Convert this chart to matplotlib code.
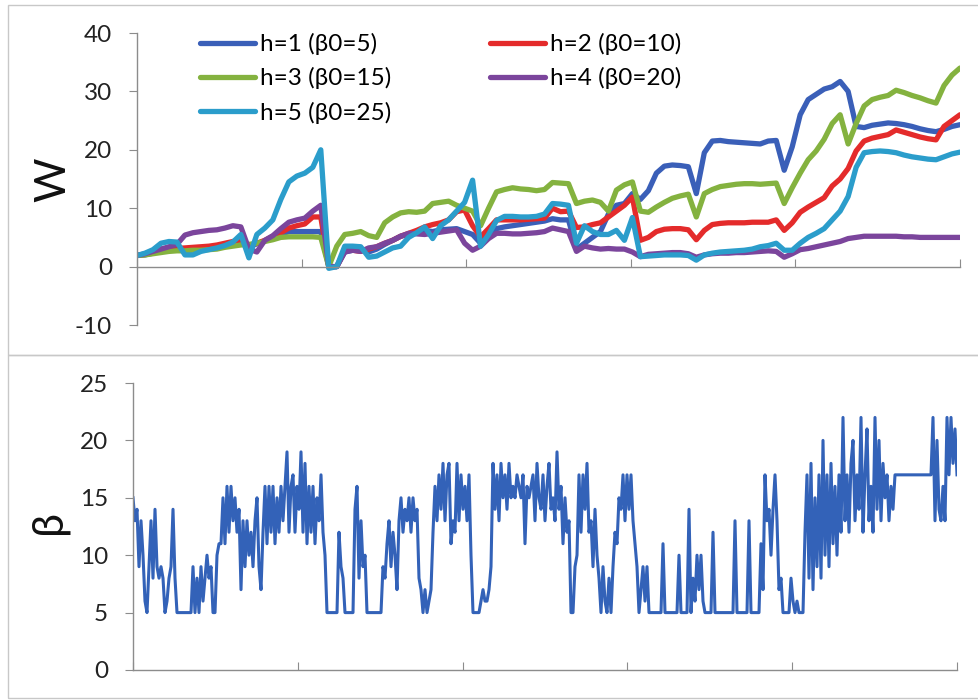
import matplotlib
matplotlib.use('Agg')
import matplotlib.pyplot as plt
from matplotlib.patches import Rectangle
import numpy as np

plt.rcParams['font.family'] = ['Lato', 'DejaVu Sans']
plt.rcParams['axes.unicode_minus'] = False

# W for the five runs (same time grid for all)
w_h1 = [1.9, 2.0, 2.3, 2.7, 2.9, 3.0, 3.0, 3.1,
        3.2, 3.3, 3.5, 3.8, 4.1, 4.4, 3.4, 3.9,
        4.4, 5.0, 5.5, 6.0, 6.0, 6.0, 6.0, 6.0,
        0.0, 0.0, 2.5, 2.8, 3.0, 2.5, 3.0, 3.8,
        4.5, 5.2, 5.5, 5.8, 6.2, 6.0, 6.3, 6.4,
        6.5, 6.0, 5.5, 4.0, 5.5, 6.5, 6.8, 7.0,
        7.2, 7.4, 7.6, 7.8, 8.2, 8.0, 8.0, 3.0,
        4.0, 5.0, 6.0, 9.0, 10.5, 10.8, 12.5, 11.5,
        13.0, 16.0, 17.2, 17.4, 17.3, 17.1, 12.5, 19.5,
        21.5, 21.6, 21.4, 21.3, 21.2, 21.1, 21.0, 21.5,
        21.6, 16.5, 20.5, 26.0, 28.6, 29.5, 30.4, 30.8,
        31.7, 30.0, 24.0, 23.8, 24.2, 24.4, 24.6, 24.5,
        24.3, 24.0, 23.6, 23.3, 23.1, 23.5, 24.0, 24.3]
w_h2 = [1.9, 2.1, 2.5, 3.0, 3.1, 3.1, 3.2, 3.3,
        3.4, 3.5, 3.7, 4.0, 4.3, 4.6, 3.5, 4.0,
        4.5, 5.2, 5.8, 6.6, 7.0, 7.3, 8.5, 8.5,
        0.0, 0.0, 2.8, 2.8, 2.6, 3.0, 3.4, 4.0,
        4.5, 5.2, 5.7, 6.2, 6.8, 7.2, 7.5, 8.0,
        9.4, 9.7, 7.0, 5.1, 6.5, 8.0, 8.0, 8.0,
        8.0, 8.1, 8.2, 8.3, 10.0, 9.4, 9.5, 6.7,
        6.8, 7.2, 7.5, 8.5, 9.5, 10.5, 11.9, 4.5,
        5.0, 6.0, 6.4, 6.5, 6.5, 6.3, 4.6, 6.2,
        7.2, 7.4, 7.5, 7.5, 7.5, 7.6, 7.6, 7.6,
        8.0, 6.2, 7.5, 9.3, 10.2, 11.0, 11.8, 13.8,
        15.0, 16.8, 19.8, 21.5, 22.0, 22.3, 22.6, 23.4,
        23.0, 22.6, 22.2, 21.9, 21.7, 24.0, 25.0, 26.0]
w_h3 = [1.9, 2.0, 2.2, 2.4, 2.6, 2.7, 2.7, 2.8,
        2.8, 2.9, 3.0, 3.3, 3.5, 3.7, 3.8, 4.0,
        4.3, 4.6, 5.0, 5.1, 5.1, 5.1, 5.1, 5.0,
        0.0, 3.5, 5.5, 5.7, 6.0, 5.3, 5.0, 7.5,
        8.5, 9.2, 9.4, 9.3, 9.5, 10.8, 11.0, 11.2,
        10.5, 10.0, 9.5, 7.0, 10.0, 12.8, 13.2, 13.5,
        13.3, 13.2, 13.0, 13.2, 14.4, 14.3, 14.2, 10.8,
        11.2, 11.4, 11.0, 9.5, 13.1, 14.0, 14.5, 9.5,
        9.3, 10.2, 11.0, 11.7, 12.1, 12.4, 8.5, 12.5,
        13.2, 13.7, 13.9, 14.1, 14.2, 14.2, 14.1, 14.2,
        14.3, 10.8, 13.5, 16.0, 18.3, 19.8, 21.8, 24.5,
        26.0, 21.0, 24.5, 27.5, 28.6, 29.0, 29.3, 30.2,
        29.8, 29.3, 28.9, 28.4, 28.0, 31.0, 32.8, 34.0]
w_h4 = [1.9, 2.2, 2.6, 3.0, 3.4, 3.8, 5.4, 5.8,
        6.0, 6.2, 6.3, 6.6, 7.0, 6.8, 3.0, 2.5,
        4.5, 5.3, 6.5, 7.6, 8.0, 8.3, 9.5, 10.5,
        0.0, 0.0, 2.5, 2.8, 2.6, 3.2, 3.4, 4.0,
        4.5, 5.2, 5.7, 5.6, 5.5, 5.7, 5.9, 6.1,
        6.3, 4.0, 2.8, 3.5, 4.8, 5.7, 5.7, 5.6,
        5.6, 5.7, 5.8, 6.0, 6.6, 6.3, 6.0, 2.6,
        3.5, 3.2, 3.0, 3.1, 3.0, 3.0, 2.5, 1.7,
        2.1, 2.2, 2.3, 2.4, 2.4, 2.2, 1.6, 2.0,
        2.2, 2.3, 2.3, 2.4, 2.4, 2.5, 2.6, 2.7,
        2.6, 1.6, 2.2, 2.9, 3.1, 3.4, 3.7, 4.0,
        4.3, 4.8, 5.0, 5.2, 5.2, 5.2, 5.2, 5.2,
        5.1, 5.1, 5.0, 5.0, 5.0, 5.0, 5.0, 5.0]
w_h5 = [1.9, 2.3, 2.9, 4.0, 4.3, 4.2, 2.0, 2.0,
        2.6, 2.9, 3.2, 3.6, 4.2, 5.5, 1.5, 5.5,
        6.6, 8.0, 11.5, 14.5, 15.5, 16.0, 17.0, 20.0,
        -0.3, 0.0, 3.5, 3.5, 3.4, 1.6, 1.8, 2.5,
        3.2, 3.5, 5.0, 5.8, 6.8, 4.8, 7.0, 8.0,
        9.5, 11.0, 14.8, 3.5, 5.5, 7.9, 8.6, 8.6,
        8.5, 8.5, 8.6, 9.0, 10.8, 10.7, 10.5, 4.0,
        7.0, 6.0, 5.5, 5.5, 6.2, 4.5, 8.4, 1.7,
        1.8, 1.9, 2.0, 2.0, 2.0, 1.9, 1.1, 2.0,
        2.3, 2.5, 2.6, 2.7, 2.8, 3.0, 3.4, 3.6,
        4.0, 2.8, 2.8, 4.0, 5.0, 5.7, 6.5, 8.0,
        9.5, 12.0, 17.0, 19.5, 19.7, 19.8, 19.7, 19.5,
        19.1, 18.8, 18.6, 18.4, 18.3, 18.8, 19.3, 19.6]

labels = ['h=1 (\u03b20=5)', 'h=2 (\u03b20=10)', 'h=3 (\u03b20=15)',
          'h=4 (\u03b20=20)', 'h=5 (\u03b20=25)']
colors = ['#3a5fb8', '#e42b2b', '#84b23f', '#7b459c', '#2b9dcb']

# beta trace (integer levels)
beta = [15, 13, 14, 9, 13, 10,
        6, 5, 9,
        13, 8, 14, 9,
        8, 9, 8, 5, 6,
        8, 9, 14, 8,
        5, 5, 5, 5, 5, 5, 5, 5,
        9, 5, 8, 5, 9, 6, 8,
        10, 8, 9, 5, 5,
        10, 11, 11,
        15, 11, 16, 12, 16, 13, 15, 12, 14,
        7, 13,
        9, 13, 10, 12, 9, 13, 15,
        9, 7, 12,
        16, 11, 16, 12, 16, 11, 15,
        12, 16, 13, 16, 19, 12, 16, 17, 12, 16, 14, 19, 12,
        18, 11, 16, 12, 16, 11, 15, 13, 17, 12,
        10, 5, 5, 5, 5, 5, 5,
        12, 9, 8, 5, 5, 5, 5, 5,
        14, 16, 8, 13, 9, 10,
        5, 5, 5, 5, 5, 5, 5, 5,
        9, 8, 11,
        13, 9, 12, 10, 7, 13,
        15, 12, 14, 13, 15, 12, 15, 13, 14,
        8, 7, 5, 7, 5, 6, 7,
        12, 16, 13, 17, 14, 18, 13, 17, 18,
        11, 13, 12, 18,
        13, 17, 14, 16, 13, 17, 10, 5,
        5, 5, 5, 6, 7, 6,
        6, 7, 9,
        18, 14, 17, 13, 18, 15, 17, 14, 18, 15,
        16, 15, 17, 16, 15, 17, 11, 16, 15, 16,
        17, 13, 18, 15, 14, 17, 13, 16, 18, 14, 15, 13, 19, 14,
        16, 11, 15, 12, 13, 5, 5,
        9, 10, 17, 12, 17, 14, 18, 12,
        13, 9, 14, 10, 8,
        5, 9, 6, 5, 8, 5,
        9, 12, 11, 15, 14, 17,
        13, 17, 14, 17, 13, 11, 9, 5,
        7, 9, 6, 9,
        5, 5, 5, 5, 5, 5, 5, 11,
        5, 5, 5, 5, 5, 5, 5, 10,
        5, 5, 5, 5, 14,
        5, 8, 6, 10, 7, 10, 6, 5,
        5, 5, 5, 12,
        5, 5, 5, 5, 5, 5, 5, 5, 5, 5, 13,
        5, 5, 5, 5, 5, 5, 13,
        5, 5, 5, 5, 5, 11, 7,
        17, 13, 14, 10, 14, 17, 13, 7, 8,
        5, 5, 5, 5, 8,
        6, 5, 6, 5, 5, 5,
        12, 17, 8, 18, 7, 15, 9, 17, 8, 20, 10,
        17, 9, 18, 11, 16, 10, 17, 12, 22,
        13, 17, 12, 18, 20, 13, 17, 14, 22,
        12, 17, 21, 13, 16, 12, 22,
        14, 20, 13, 18, 15, 17, 13, 16, 14, 17, 17,
        17, 17, 17, 17, 17, 17, 17, 17, 17, 17, 17, 17, 17, 17, 17, 17, 17,
        22, 13, 20, 14, 13, 16, 13,
        22, 17, 22, 18, 21, 17]

gray = '#8c8c8c'

fig = plt.figure(figsize=(9.79, 7.0), dpi=100)

# chart frames
fig.add_artist(Rectangle((8/979, 345/700), 0.995, 350/700, transform=fig.transFigure,
                         fill=False, ec='#c8c8c8', lw=1))
fig.add_artist(Rectangle((8/979, 2/700), 0.995, 343/700, transform=fig.transFigure,
                         fill=False, ec='#c8c8c8', lw=1))

# ---- top: W
ax1 = fig.add_axes([137/979, 1 - 325/700, 823/979, 292/700])
t = np.arange(len(w_h1))
lines = []
for w, lab, c in zip([w_h1, w_h2, w_h3, w_h4, w_h5], labels, colors):
    ln, = ax1.plot(t, w, color=c, lw=3.8, label=lab,
                   solid_joinstyle='round', solid_capstyle='round')
    lines.append(ln)
ax1.set_xlim(0, len(t) - 1)
ax1.set_ylim(-10, 40)
ax1.set_yticks([-10, 0, 10, 20, 30, 40])
ax1.set_xticks(np.linspace(0, len(t) - 1, 6))
ax1.spines['bottom'].set_position(('data', 0))

order = [0, 2, 4, 1, 3]
ax1.legend([lines[k] for k in order], [labels[k] for k in order], ncol=2,
           loc='upper left', bbox_to_anchor=(200/979, 1 - 33/700),
           bbox_transform=fig.transFigure, frameon=False, fontsize=17.5,
           handlelength=2.25, handletextpad=0.2, columnspacing=4.1,
           labelspacing=0.5, borderpad=0, borderaxespad=0)

# ---- bottom: beta
ax2 = fig.add_axes([133/979, 1 - 670/700, 824/979, 287/700])
tb = np.arange(len(beta))
ax2.plot(tb, beta, color='#3362b8', lw=2.2)
ax2.set_xlim(0, len(tb) - 1)
ax2.set_ylim(0, 25)
ax2.set_yticks([0, 5, 10, 15, 20, 25])
ax2.set_xticks(np.linspace(0, len(tb) - 1, 6))

for ax in (ax1, ax2):
    for s in ('top', 'right'):
        ax.spines[s].set_visible(False)
    for s in ('left', 'bottom'):
        ax.spines[s].set_color(gray)
        ax.spines[s].set_linewidth(1)
    ax.tick_params(axis='y', direction='out', length=6, color=gray,
                   labelsize=17.5, pad=12, labelcolor='#222222')
    ax.tick_params(axis='x', direction='in', length=6, color=gray,
                   labelbottom=False)
    ax.patch.set_alpha(0)

fig.text(53/979, 1 - 180/700, 'W', rotation=90, ha='center', va='center',
         fontsize=31, color='#111111')
fig.text(49/979, 1 - 522/700, '\u03b2', rotation=90, ha='center', va='center',
         fontsize=31, color='#111111')

fig.savefig('out.png', dpi=100)
